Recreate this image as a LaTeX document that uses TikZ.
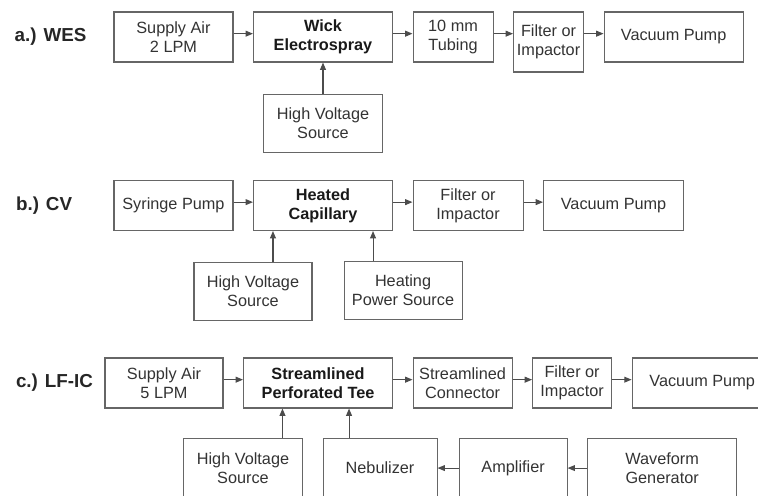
\documentclass[tikz,border=0pt]{standalone}
\usepackage{fontspec}
\setmainfont{Liberation Sans}
\usetikzlibrary{positioning,arrows.meta}
\tikzset{
	flow/.style={>={Triangle[length=5.5pt,width=4.4pt]},node distance=14.6pt,
		font=\fontsize{12.2}{14.3}\selectfont},
	unit/.style={draw=black!60,line width=0.8pt,align=center,inner sep=1pt,
		text=black!80,minimum height=37.5pt},
	aux/.style={unit,minimum height=43.5pt},
	main/.style={unit,text=black!90,font=\fontsize{12.2}{14.3}\selectfont\bfseries},
	tag/.style={anchor=west,font=\fontsize{14.1}{16}\selectfont\bfseries,text=black!85},
	feed/.style={->,line width=0.8pt,color=black!70}
}

\begin{document}
\begin{tikzpicture}[flow]
	\clip (0,0) rectangle (568.5pt,-372pt);
	
	\node[tag] (taga) at (7.5pt,-27.75pt) {a.) WES};
	\node[unit, minimum width=89.25pt] (aira) at (130.1pt,-27.75pt) {Supply Air\\2 LPM};
	\node[main, minimum width=104.25pt] (wick) [right= of aira] {Wick\\Electrospray};
	\node[unit, minimum width=60pt] (tube) [right= of wick] {10 mm\\Tubing};
	\node[unit, minimum width=52.5pt, minimum height=45pt] (filta) [right= of tube, yshift=-3.75pt] {Filter or\\Impactor};
	\node[unit, minimum width=104.25pt] (vaca) [right= of filta, yshift=3.75pt] {Vacuum Pump};
	\node[aux, minimum width=89.25pt] (hva) [below=23.25pt of wick] {High Voltage\\Source};
	
	\path[feed] ([yshift=2.5pt]aira.east) edge ([yshift=2.5pt]wick.west);
	\path[feed] ([yshift=2.5pt]wick.east) edge ([yshift=2.5pt]tube.west);
	\path[feed] ([yshift=2.5pt]tube.east) edge ([yshift=2.5pt]tube.east -| filta.west);
	\path[feed] ([yshift=2.5pt]vaca.west -| filta.east) edge ([yshift=2.5pt]vaca.west);
	\path[feed] (hva) edge (wick);
	
	\node[tag] (tagb) at (8.5pt,-154.1pt) {b.) CV};
	\node[unit, minimum width=89.25pt] (syr) at (130.1pt,-154.1pt) {Syringe Pump};
	\node[main, minimum width=104.25pt] (cap) [right= of syr] {Heated\\Capillary};
	\node[unit, minimum width=82.5pt] (filtb) [right= of cap] {Filter or\\Impactor};
	\node[unit, minimum width=105pt] (vacb) [right= of filtb] {Vacuum Pump};
	\node[aux, minimum width=88.5pt] (hvb) [below=23.25pt of cap.south west] {High Voltage\\Source};
	\node[aux, minimum width=88.5pt] (heat) [below=22.5pt of cap.south east, xshift=7.5pt] {Heating\\Power Source};
	
	\path[feed] ([yshift=2.5pt]syr.east) edge ([yshift=2.5pt]cap.west);
	\path[feed] ([yshift=2.5pt]cap.east) edge ([yshift=2.5pt]filtb.west);
	\path[feed] ([yshift=2.5pt]filtb.east) edge ([yshift=2.5pt]vacb.west);
	\path[feed] ([xshift=15pt]hvb.north) edge ([xshift=15pt]hvb.north |- cap.south);
	\path[feed] ([xshift=-22.5pt]heat.north) edge ([xshift=-22.5pt]heat.north |- cap.south);
	
	\node[tag] (tagc) at (8.5pt,-287.25pt) {c.) LF-IC};
	\node[unit, minimum width=88.5pt] (airc) at (123pt,-287.25pt) {Supply Air\\5 LPM};
	\node[main, minimum width=111.75pt] (tee) [right= of airc] {Streamlined\\Perforated Tee};
	\node[unit, minimum width=74.25pt] (conn) [right= of tee] {Streamlined\\Connector};
	\node[unit, minimum width=59.25pt] (filtc) [right= of conn] {Filter or\\Impactor};
	\node[unit, minimum width=105pt] (vacc) [right= of filtc] {Vacuum Pump};
	\node[unit, minimum width=89.25pt, minimum height=45pt] (hvc) [below=21.75pt of tee.south west] {High Voltage\\Source};
	\node[unit, minimum width=85.5pt, minimum height=45pt] (neb) [right= of hvc] {Nebulizer};
	\node[unit, minimum width=81pt, minimum height=45pt] (amp) [right=15.75pt of neb] {Amplifier};
	\node[unit, minimum width=111.75pt, minimum height=45pt] (wave) [right= of amp] {Waveform\\Generator};
	
	\path[feed] ([yshift=2.5pt]airc.east) edge ([yshift=2.5pt]tee.west);
	\path[feed] ([yshift=2.5pt]tee.east) edge ([yshift=2.5pt]conn.west);
	\path[feed] ([yshift=2.5pt]conn.east) edge ([yshift=2.5pt]filtc.west);
	\path[feed] ([yshift=2.5pt]filtc.east) edge ([yshift=2.5pt]vacc.west);
	\path[feed] ([xshift=29.6pt]hvc.north) edge ([xshift=29.6pt]hvc.north |- tee.south);
	\path[feed] ([xshift=-23.25pt]neb.north) edge ([xshift=-23.25pt]neb.north |- tee.south);
	\path[feed] (wave) edge (amp);
	\path[feed] (amp) edge (neb);
	
\end{tikzpicture}
\end{document}
